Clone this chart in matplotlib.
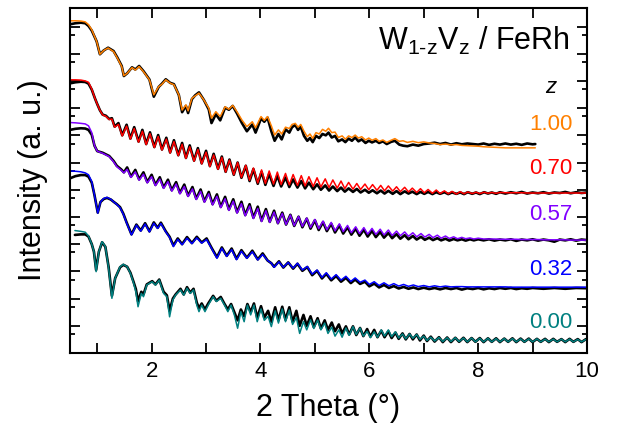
import numpy as np
import matplotlib
matplotlib.use('Agg')
import matplotlib.pyplot as plt
from matplotlib.ticker import FixedLocator, NullFormatter

plt.rcParams['font.family'] = ['Liberation Sans', 'DejaVu Sans']
plt.rcParams['mathtext.fontset'] = 'custom'
plt.rcParams['mathtext.rm'] = 'Liberation Sans'
plt.rcParams['mathtext.it'] = 'Liberation Sans:italic'

# columns: 2 theta (deg), log10 intensity of fit, log10 intensity of measurement
z100 = np.array([
    [0.50, 12.21, 12.08], [0.60, 12.21, 12.12], [0.70, 12.20, 12.14], [0.78, 12.17, 12.12],
    [0.84, 12.07, 12.02], [0.90, 11.88, 11.85], [0.99, 11.45, 11.45], [1.05, 10.98, 10.98],
    [1.12, 11.12, 11.12], [1.20, 11.21, 11.22], [1.30, 11.08, 11.10], [1.37, 10.84, 10.86],
    [1.45, 10.53, 10.55], [1.49, 10.19, 10.18], [1.55, 10.28, 10.28], [1.64, 10.49, 10.50],
    [1.70, 10.40, 10.42], [1.77, 10.53, 10.55], [1.85, 10.34, 10.36], [1.96, 10.04, 10.05],
    [2.04, 9.49, 9.42], [2.13, 9.79, 9.78], [2.19, 9.88, 9.90], [2.26, 10.04, 10.06],
    [2.34, 9.92, 9.93], [2.41, 9.86, 9.88], [2.50, 9.49, 9.48], [2.56, 8.93, 8.85],
    [2.63, 9.12, 9.08], [2.67, 8.90, 8.82], [2.74, 9.36, 9.33], [2.80, 9.45, 9.47],
    [2.87, 9.55, 9.58], [2.96, 9.30, 9.30], [3.05, 9.00, 8.95], [3.10, 8.63, 8.45],
    [3.18, 8.87, 8.78], [3.26, 8.69, 8.55], [3.35, 9.05, 9.02], [3.42, 8.96, 8.94],
    [3.49, 9.10, 9.08], [3.57, 8.86, 8.80], [3.66, 8.56, 8.45], [3.75, 8.32, 8.15],
    [3.85, 8.50, 8.40], [3.91, 8.28, 8.10], [4.01, 8.69, 8.62], [4.07, 8.55, 8.50],
    [4.13, 8.69, 8.65], [4.20, 8.35, 8.15], [4.26, 8.01, 7.80], [4.33, 8.20, 8.05],
    [4.39, 8.05, 7.85], [4.46, 8.30, 8.22], [4.53, 8.25, 8.10], [4.58, 8.40, 8.30],
    [4.64, 8.44, 8.38], [4.69, 8.30, 8.20], [4.74, 8.40, 8.32], [4.80, 8.15, 7.98],
    [4.86, 7.95, 7.80], [4.91, 8.05, 7.90], [4.96, 7.89, 7.75], [5.02, 8.10, 7.98],
    [5.08, 8.05, 7.90], [5.14, 8.22, 8.05], [5.20, 8.15, 8.00], [5.25, 8.26, 8.10],
    [5.31, 8.10, 7.92], [5.37, 8.12, 7.98], [5.43, 7.92, 7.78], [5.50, 7.98, 7.85],
    [5.56, 7.86, 7.75], [5.62, 7.98, 7.88], [5.68, 7.92, 7.80], [5.74, 8.01, 7.92],
    [5.80, 7.90, 7.78], [5.86, 7.95, 7.85], [5.93, 7.83, 7.72], [5.99, 7.90, 7.80],
    [6.05, 7.82, 7.74], [6.12, 7.88, 7.80], [6.18, 7.78, 7.72], [6.25, 7.83, 7.78],
    [6.32, 7.74, 7.68], [6.40, 7.82, 7.76], [6.47, 7.88, 7.80], [6.55, 7.78, 7.66],
    [6.62, 7.80, 7.62], [6.70, 7.74, 7.60], [6.80, 7.78, 7.66], [6.90, 7.73, 7.62],
    [7.00, 7.76, 7.68], [7.10, 7.72, 7.70], [7.20, 7.70, 7.73], [7.30, 7.66, 7.68],
    [7.40, 7.68, 7.72], [7.50, 7.65, 7.66], [7.60, 7.66, 7.71], [7.70, 7.63, 7.67],
    [7.80, 7.62, 7.70], [7.90, 7.61, 7.68], [8.00, 7.60, 7.66], [8.10, 7.58, 7.70],
    [8.20, 7.57, 7.65], [8.30, 7.56, 7.69], [8.40, 7.55, 7.66], [8.50, 7.54, 7.70],
    [8.60, 7.54, 7.66], [8.70, 7.54, 7.69], [8.80, 7.54, 7.65], [8.90, 7.54, 7.70],
    [9.00, 7.54, 7.67], [9.05, 7.54, 7.68],
])

z070 = np.array([
    [0.50, 10.04, 9.91], [0.60, 10.04, 9.95], [0.70, 10.03, 9.97], [0.78, 10.00, 9.96],
    [0.84, 9.95, 9.90], [0.90, 9.70, 9.68], [0.96, 9.35, 9.35], [1.00, 9.15, 9.15],
    [1.05, 8.92, 8.92], [1.10, 8.75, 8.76], [1.16, 8.70, 8.72], [1.22, 8.58, 8.60],
    [1.27, 8.60, 8.63], [1.32, 8.30, 8.32], [1.39, 8.40, 8.45], [1.46, 7.98, 8.00],
    [1.54, 8.34, 8.39], [1.61, 7.86, 7.88], [1.68, 8.25, 8.30], [1.76, 7.75, 7.77],
    [1.83, 8.15, 8.20], [1.90, 7.66, 7.68], [1.97, 8.06, 8.11], [2.05, 7.55, 7.57],
    [2.12, 7.96, 8.01], [2.19, 7.46, 7.48], [2.27, 7.86, 7.91], [2.34, 7.35, 7.37],
    [2.41, 7.77, 7.82], [2.49, 7.25, 7.27], [2.56, 7.67, 7.72], [2.63, 7.15, 7.17],
    [2.70, 7.58, 7.63], [2.78, 7.05, 7.07], [2.85, 7.48, 7.53], [2.92, 6.95, 6.97],
    [3.00, 7.38, 7.43], [3.07, 6.85, 6.87], [3.14, 7.28, 7.32], [3.22, 6.75, 6.77],
    [3.29, 7.19, 7.22], [3.36, 6.65, 6.66], [3.43, 7.09, 7.11], [3.51, 6.55, 6.55],
    [3.58, 7.00, 7.00], [3.65, 6.45, 6.44], [3.73, 6.90, 6.88], [3.80, 6.35, 6.32],
    [3.87, 6.80, 6.76], [3.95, 6.25, 6.22], [4.02, 6.73, 6.66], [4.09, 6.23, 6.18],
    [4.16, 6.69, 6.58], [4.24, 6.21, 6.14], [4.31, 6.65, 6.52], [4.38, 6.19, 6.12],
    [4.46, 6.60, 6.45], [4.53, 6.18, 6.10], [4.60, 6.56, 6.38], [4.68, 6.16, 6.08],
    [4.75, 6.52, 6.32], [4.82, 6.14, 6.05], [4.89, 6.48, 6.26], [4.97, 6.12, 6.02],
    [5.04, 6.44, 6.20], [5.11, 6.10, 6.00], [5.19, 6.40, 6.16], [5.26, 6.08, 5.97],
    [5.33, 6.36, 6.12], [5.41, 6.06, 5.95], [5.48, 6.32, 6.08], [5.55, 6.04, 5.93],
    [5.62, 6.27, 6.05], [5.70, 6.02, 5.92], [5.77, 6.23, 6.03], [5.84, 6.01, 5.90],
    [5.92, 6.21, 6.00], [5.99, 6.00, 5.89], [6.06, 6.19, 5.98], [6.14, 5.98, 5.87],
    [6.21, 6.16, 5.97], [6.28, 5.96, 5.86], [6.35, 6.14, 5.96], [6.43, 5.95, 5.85],
    [6.50, 6.11, 5.95], [6.57, 5.93, 5.84], [6.65, 6.09, 5.94], [6.72, 5.92, 5.86],
    [6.79, 6.06, 5.93], [6.87, 5.90, 5.84], [6.94, 6.04, 5.92], [7.01, 5.89, 5.85],
    [7.08, 6.01, 5.92], [7.16, 5.87, 5.84], [7.23, 5.99, 5.91], [7.30, 5.86, 5.85],
    [7.38, 5.96, 5.91], [7.45, 5.85, 5.84], [7.52, 5.94, 5.90], [7.60, 5.84, 5.85],
    [7.67, 5.93, 5.90], [7.74, 5.85, 5.84], [7.81, 5.92, 5.91], [7.89, 5.86, 5.85],
    [7.96, 5.91, 5.90], [8.03, 5.86, 5.84], [8.11, 5.91, 5.91], [8.18, 5.87, 5.86],
    [8.25, 5.90, 5.90], [8.33, 5.87, 5.85], [8.40, 5.90, 5.91], [8.50, 5.89, 5.86],
    [8.60, 5.89, 5.91], [8.70, 5.89, 5.87], [8.80, 5.89, 5.92], [8.90, 5.88, 5.86],
    [9.00, 5.88, 5.90], [9.10, 5.88, 5.87], [9.20, 5.88, 5.91], [9.30, 5.88, 5.86],
    [9.40, 5.88, 5.90], [9.50, 5.88, 5.88], [9.60, 5.88, 5.92], [9.70, 5.88, 5.87],
    [9.80, 5.88, 5.91], [9.90, 5.88, 5.88], [10.00, 5.88, 5.90],
])

z057 = np.array([
    [0.50, 8.47, 8.20], [0.60, 8.46, 8.24], [0.70, 8.44, 8.26], [0.78, 8.42, 8.25],
    [0.84, 8.35, 8.20], [0.90, 8.10, 8.02], [0.95, 7.62, 7.62], [1.00, 7.42, 7.42],
    [1.10, 7.34, 7.36], [1.22, 7.22, 7.24], [1.30, 7.03, 7.06], [1.36, 6.85, 6.88],
    [1.44, 6.72, 6.75], [1.49, 6.62, 6.64], [1.55, 6.75, 6.82], [1.62, 6.45, 6.48],
    [1.70, 6.66, 6.73], [1.77, 6.35, 6.38], [1.85, 6.57, 6.64], [1.92, 6.25, 6.28],
    [2.00, 6.48, 6.55], [2.07, 6.15, 6.18], [2.15, 6.39, 6.46], [2.22, 6.05, 6.08],
    [2.30, 6.30, 6.37], [2.37, 5.95, 5.98], [2.45, 6.21, 6.28], [2.52, 5.85, 5.88],
    [2.60, 6.12, 6.19], [2.67, 5.75, 5.78], [2.75, 6.03, 6.10], [2.82, 5.64, 5.67],
    [2.90, 5.94, 6.01], [2.97, 5.54, 5.57], [3.05, 5.85, 5.92], [3.12, 5.44, 5.47],
    [3.20, 5.76, 5.83], [3.27, 5.34, 5.37], [3.35, 5.67, 5.74], [3.42, 5.24, 5.27],
    [3.50, 5.58, 5.65], [3.57, 5.14, 5.17], [3.65, 5.49, 5.56], [3.72, 5.04, 5.07],
    [3.80, 5.40, 5.47], [3.87, 4.94, 4.97], [3.95, 5.31, 5.38], [4.02, 4.83, 4.86],
    [4.10, 5.23, 5.29], [4.17, 4.80, 4.82], [4.25, 5.18, 5.23], [4.32, 4.76, 4.77],
    [4.40, 5.13, 5.16], [4.47, 4.72, 4.72], [4.55, 5.07, 5.08], [4.62, 4.68, 4.67],
    [4.70, 5.02, 5.01], [4.77, 4.65, 4.62], [4.85, 4.96, 4.94], [4.92, 4.61, 4.57],
    [5.00, 4.91, 4.88], [5.07, 4.57, 4.52], [5.15, 4.85, 4.81], [5.22, 4.53, 4.48],
    [5.30, 4.80, 4.75], [5.37, 4.49, 4.43], [5.45, 4.75, 4.69], [5.52, 4.46, 4.39],
    [5.60, 4.69, 4.62], [5.67, 4.42, 4.35], [5.75, 4.64, 4.57], [5.82, 4.39, 4.31],
    [5.90, 4.61, 4.53], [5.97, 4.37, 4.28], [6.05, 4.58, 4.49], [6.12, 4.36, 4.26],
    [6.20, 4.55, 4.45], [6.27, 4.34, 4.24], [6.35, 4.52, 4.41], [6.42, 4.32, 4.22],
    [6.50, 4.48, 4.37], [6.57, 4.31, 4.20], [6.65, 4.45, 4.33], [6.72, 4.29, 4.18],
    [6.80, 4.42, 4.30], [6.87, 4.27, 4.17], [6.95, 4.39, 4.27], [7.02, 4.26, 4.16],
    [7.10, 4.36, 4.24], [7.17, 4.24, 4.15], [7.25, 4.33, 4.22], [7.32, 4.22, 4.14],
    [7.40, 4.30, 4.20], [7.47, 4.21, 4.13], [7.55, 4.27, 4.19], [7.62, 4.20, 4.14],
    [7.70, 4.25, 4.18], [7.77, 4.20, 4.13], [7.85, 4.23, 4.18], [7.92, 4.19, 4.14],
    [8.00, 4.22, 4.18], [8.10, 4.19, 4.14], [8.20, 4.19, 4.18], [8.30, 4.19, 4.13],
    [8.40, 4.18, 4.17], [8.50, 4.18, 4.14], [8.60, 4.18, 4.18], [8.70, 4.18, 4.12],
    [8.80, 4.17, 4.17], [8.90, 4.17, 4.14], [9.00, 4.17, 4.18], [9.10, 4.17, 4.13],
    [9.20, 4.16, 4.17], [9.30, 4.16, 4.14], [9.40, 4.16, 4.09], [9.50, 4.16, 4.17],
    [9.60, 4.16, 4.14], [9.70, 4.15, 4.18], [9.80, 4.15, 4.13], [9.90, 4.15, 4.17],
    [10.00, 4.15, 4.15],
])

z032 = np.array([
    [0.50, 6.69, 6.42], [0.60, 6.68, 6.50], [0.70, 6.66, 6.54], [0.78, 6.62, 6.54],
    [0.84, 6.55, 6.48], [0.90, 6.30, 6.26], [0.95, 5.80, 5.80], [1.01, 5.14, 5.16],
    [1.06, 5.55, 5.55], [1.12, 5.68, 5.66], [1.18, 5.72, 5.70], [1.25, 5.65, 5.64],
    [1.30, 5.56, 5.56], [1.36, 5.46, 5.47], [1.42, 5.34, 5.36], [1.48, 5.10, 5.12],
    [1.54, 4.78, 4.80], [1.63, 4.34, 4.36], [1.72, 4.70, 4.72], [1.80, 4.48, 4.50],
    [1.88, 4.74, 4.77], [1.96, 4.45, 4.47], [2.04, 4.77, 4.80], [2.11, 4.58, 4.60],
    [2.17, 4.76, 4.79], [2.26, 4.45, 4.47], [2.33, 4.25, 4.27], [2.40, 3.91, 3.95],
    [2.48, 4.18, 4.21], [2.56, 3.98, 4.00], [2.65, 4.22, 4.26], [2.74, 4.02, 4.04],
    [2.83, 4.23, 4.27], [2.92, 4.04, 4.06], [3.01, 4.17, 4.21], [3.10, 3.85, 3.87],
    [3.20, 3.48, 3.52], [3.29, 3.85, 3.88], [3.38, 3.55, 3.57], [3.47, 3.80, 3.84],
    [3.56, 3.43, 3.46], [3.65, 3.74, 3.78], [3.75, 3.48, 3.50], [3.85, 3.72, 3.76],
    [3.95, 3.42, 3.44], [4.04, 3.62, 3.66], [4.13, 3.40, 3.40], [4.20, 3.30, 3.30],
    [4.25, 3.15, 3.17], [4.34, 3.35, 3.37], [4.42, 3.15, 3.14], [4.51, 3.33, 3.33],
    [4.60, 3.12, 3.10], [4.68, 3.30, 3.28], [4.77, 3.05, 3.02], [4.86, 3.18, 3.16],
    [4.95, 2.90, 2.86], [5.04, 3.05, 3.02], [5.13, 2.78, 2.74], [5.21, 2.95, 2.91],
    [5.30, 2.72, 2.67], [5.39, 2.88, 2.83], [5.48, 2.68, 2.62], [5.57, 2.82, 2.76],
    [5.66, 2.63, 2.57], [5.74, 2.76, 2.70], [5.83, 2.60, 2.54], [5.92, 2.68, 2.62],
    [6.00, 2.52, 2.45], [6.09, 2.62, 2.55], [6.18, 2.48, 2.41], [6.27, 2.58, 2.50],
    [6.36, 2.47, 2.39], [6.45, 2.55, 2.46], [6.54, 2.46, 2.37], [6.63, 2.52, 2.43],
    [6.72, 2.45, 2.36], [6.81, 2.50, 2.41], [6.90, 2.44, 2.35], [7.00, 2.48, 2.40],
    [7.10, 2.43, 2.35], [7.20, 2.47, 2.39], [7.30, 2.43, 2.34], [7.40, 2.46, 2.39],
    [7.50, 2.43, 2.35], [7.60, 2.44, 2.39], [7.70, 2.44, 2.33], [7.80, 2.43, 2.38],
    [7.90, 2.43, 2.35], [8.00, 2.43, 2.39], [8.10, 2.43, 2.34], [8.20, 2.43, 2.38],
    [8.30, 2.43, 2.35], [8.40, 2.43, 2.39], [8.50, 2.43, 2.36], [8.60, 2.42, 2.39],
    [8.70, 2.42, 2.35], [8.80, 2.42, 2.38], [8.90, 2.42, 2.36], [9.00, 2.42, 2.39],
    [9.20, 2.42, 2.36], [9.40, 2.42, 2.39], [9.60, 2.42, 2.36], [9.80, 2.42, 2.39],
    [10.00, 2.42, 2.38],
])

z000 = np.array([
    [0.59, 4.50, 4.34], [0.70, 4.47, 4.36], [0.78, 4.44, 4.36], [0.84, 4.30, 4.28],
    [0.90, 4.00, 4.00], [0.94, 3.72, 3.72], [0.98, 2.99, 3.05], [1.03, 3.72, 3.72],
    [1.09, 4.09, 4.07], [1.15, 3.91, 3.90], [1.21, 3.11, 3.15], [1.27, 2.01, 2.10],
    [1.33, 2.75, 2.75], [1.42, 3.17, 3.15], [1.48, 3.26, 3.24], [1.55, 3.17, 3.17],
    [1.61, 2.93, 2.95], [1.67, 2.56, 2.60], [1.71, 2.25, 2.35], [1.75, 1.70, 1.90],
    [1.81, 2.19, 2.25], [1.85, 2.07, 2.15], [1.91, 2.50, 2.52], [2.01, 2.62, 2.64],
    [2.07, 2.50, 2.52], [2.14, 2.68, 2.70], [2.22, 2.19, 2.25], [2.28, 2.07, 2.12],
    [2.33, 1.33, 1.55], [2.39, 1.95, 2.00], [2.44, 2.13, 2.15], [2.53, 2.32, 2.36],
    [2.59, 2.13, 2.15], [2.65, 2.38, 2.42], [2.71, 2.19, 2.22], [2.77, 2.32, 2.36],
    [2.83, 1.76, 1.85], [2.87, 1.52, 1.65], [2.92, 1.76, 1.82], [2.98, 1.52, 1.60],
    [3.04, 1.76, 1.82], [3.13, 2.07, 2.10], [3.19, 1.89, 1.92], [3.27, 2.01, 2.06],
    [3.34, 1.76, 1.80], [3.40, 1.52, 1.60], [3.46, 1.76, 1.80], [3.52, 1.40, 1.50],
    [3.58, 0.91, 1.20], [3.64, 1.52, 1.60], [3.70, 1.15, 1.35], [3.76, 1.76, 1.80],
    [3.82, 1.40, 1.50], [3.88, 1.76, 1.82], [3.94, 1.15, 1.30], [4.01, 1.62, 1.72],
    [4.07, 1.20, 1.30], [4.14, 1.35, 1.55], [4.20, 0.97, 1.15], [4.27, 1.55, 1.68],
    [4.33, 1.10, 1.20], [4.40, 1.62, 1.70], [4.46, 1.15, 1.22], [4.53, 1.58, 1.68],
    [4.59, 1.05, 1.15], [4.66, 1.30, 1.55], [4.72, 0.72, 1.00], [4.79, 1.15, 1.40],
    [4.85, 0.85, 1.00], [4.92, 1.22, 1.35], [4.98, 0.90, 0.95], [5.05, 1.21, 1.28],
    [5.11, 0.85, 0.90], [5.18, 1.10, 1.20], [5.24, 0.72, 0.85], [5.31, 0.95, 1.12],
    [5.37, 0.62, 0.80], [5.44, 0.85, 1.05], [5.50, 0.58, 0.72], [5.57, 0.92, 0.98],
    [5.63, 0.65, 0.68], [5.70, 0.97, 0.98], [5.76, 0.68, 0.66], [5.83, 0.92, 0.92],
    [5.89, 0.62, 0.62], [5.96, 0.80, 0.88], [6.02, 0.56, 0.60], [6.09, 0.78, 0.85],
    [6.15, 0.58, 0.58], [6.22, 0.85, 0.82], [6.28, 0.62, 0.58], [6.35, 0.85, 0.80],
    [6.41, 0.60, 0.55], [6.48, 0.78, 0.75], [6.54, 0.55, 0.52], [6.61, 0.70, 0.72],
    [6.67, 0.52, 0.50], [6.74, 0.70, 0.70], [6.80, 0.54, 0.50], [6.87, 0.68, 0.68],
    [6.93, 0.50, 0.46], [7.00, 0.62, 0.64], [7.06, 0.46, 0.44], [7.13, 0.58, 0.60],
    [7.20, 0.44, 0.42], [7.28, 0.57, 0.58], [7.35, 0.42, 0.40], [7.43, 0.56, 0.57],
    [7.50, 0.42, 0.40], [7.58, 0.56, 0.56], [7.65, 0.42, 0.41], [7.73, 0.55, 0.56],
    [7.80, 0.41, 0.40], [7.88, 0.55, 0.55], [7.95, 0.41, 0.41], [8.03, 0.54, 0.55],
    [8.10, 0.41, 0.40], [8.18, 0.54, 0.54], [8.25, 0.41, 0.41], [8.33, 0.53, 0.54],
    [8.40, 0.41, 0.40], [8.48, 0.53, 0.53], [8.55, 0.41, 0.41], [8.63, 0.53, 0.54],
    [8.70, 0.41, 0.40], [8.78, 0.52, 0.53], [8.85, 0.41, 0.41], [8.93, 0.52, 0.53],
    [9.00, 0.41, 0.40], [9.08, 0.52, 0.52], [9.15, 0.41, 0.41], [9.23, 0.51, 0.52],
    [9.30, 0.41, 0.40], [9.38, 0.51, 0.52], [9.45, 0.41, 0.41], [9.53, 0.51, 0.51],
    [9.60, 0.41, 0.40], [9.68, 0.51, 0.52], [9.75, 0.41, 0.41], [9.83, 0.50, 0.51],
    [9.90, 0.41, 0.40], [9.98, 0.50, 0.51],
])

z_labels = ['1.00', '0.70', '0.57', '0.32', '0.00']
colors = ['#FF8000', '#FF0000', '#8000FF', '#0000FF', '#008080']
label_y = [0.661, 0.536, 0.400, 0.241, 0.087]

fig = plt.figure(figsize=(6.27, 4.41), dpi=100)
ax = fig.add_axes([70 / 627, 88 / 441, 517 / 627, 345 / 441])
ax.set_yscale('log')

for data, color, lab, ly in zip([z100, z070, z057, z032, z000], colors, z_labels, label_y):
    ax.plot(data[:, 0], 10 ** data[:, 2], color='black', lw=1.9,
            solid_joinstyle='round', solid_capstyle='round')
    ax.plot(data[:, 0], 10 ** data[:, 1], color=color, lw=1.1,
            solid_joinstyle='round', solid_capstyle='round')
    ax.text(0.972, ly, lab, color=color, fontsize=16, ha='right', va='center',
            transform=ax.transAxes)

ax.text(0.967, 0.878, r'W$_{\mathrm{1}\text{-}\mathrm{z}}$V$_{\mathrm{z}}$ / FeRh',
        fontsize=22, ha='right', va='baseline', transform=ax.transAxes)
ax.text(0.930, 0.771, 'z', fontsize=16, style='italic', ha='center', va='center',
        transform=ax.transAxes)

ax.set_xlim(0.5, 10)
ax.set_ylim(1, 10 ** 12.68)
ax.set_xticks([2, 4, 6, 8, 10])
ax.set_xticks([1, 3, 5, 7, 9], minor=True)
ax.yaxis.set_major_locator(FixedLocator([10.0 ** k for k in range(1, 13)]))
ax.yaxis.set_minor_locator(FixedLocator([5 * 10.0 ** k for k in range(0, 12)]))
ax.yaxis.set_major_formatter(NullFormatter())
ax.yaxis.set_minor_formatter(NullFormatter())

ax.tick_params(axis='x', which='both', direction='in', top=True, length=7, width=1.3,
               labelsize=16, pad=6)
ax.tick_params(axis='y', which='major', direction='in', right=True, length=7, width=1.3)
ax.tick_params(axis='y', which='minor', direction='in', right=True, length=3.5, width=1.3)
for spine in ax.spines.values():
    spine.set_linewidth(1.5)

ax.set_xlabel('2 Theta (°)', fontsize=22, labelpad=8)
ax.set_ylabel('Intensity (a. u.)', fontsize=22, labelpad=12)

fig.savefig('out.png', dpi=100)
